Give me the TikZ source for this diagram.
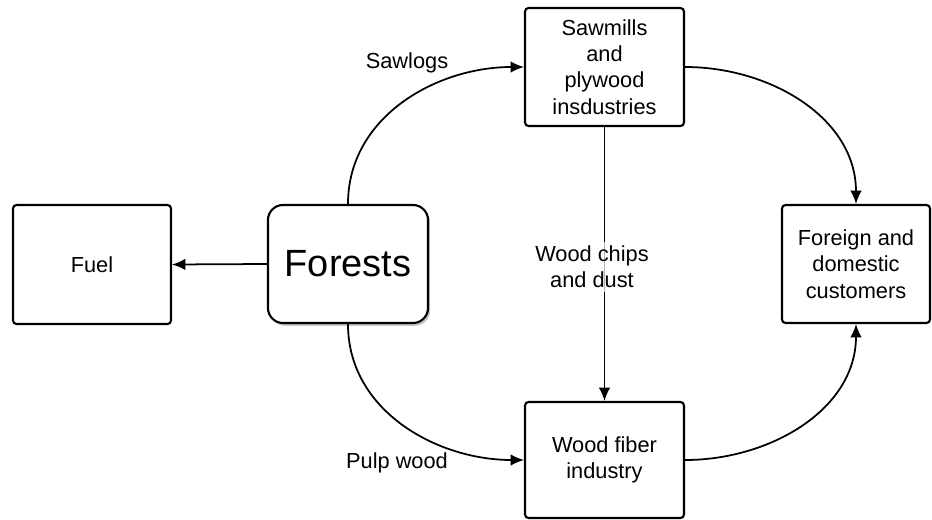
\documentclass[tikz,border=0pt]{standalone}
\usepackage{fontspec}
\setmainfont{Liberation Sans}
\usetikzlibrary{arrows.meta,shadows}
\begin{document}
\begin{tikzpicture}[
  box/.style={draw, line width=0.6pt, rounded corners=1pt, align=center,
    inner sep=0pt, font=\fontsize{6.2}{7.5}\selectfont},
  flow/.style={draw, line width=0.5pt, -{Latex[length=3.8pt,width=3.3pt]}},
  lbl/.style={align=center, inner sep=1pt, font=\fontsize{6.2}{7.5}\selectfont}]
\useasboundingbox (0,0) rectangle (9.32,5.19);

\node[box, minimum width=1.58cm, minimum height=1.19cm] (fuel) at (0.92,2.545) {Fuel};
\node[box, minimum width=1.60cm, minimum height=1.18cm, rounded corners=0.15cm,
  fill=white, drop shadow={shadow xshift=0.6pt, shadow yshift=-0.8pt, fill=black!45},
  font=\fontsize{10.8}{13}\selectfont] (forests) at (3.48,2.55) {Forests};
\node[box, minimum width=1.59cm, minimum height=1.18cm] (sawmills) at (6.045,4.52)
  {Sawmills\\and\\plywood\\insdustries};
\node[box, minimum width=1.59cm, minimum height=1.16cm] (fiber) at (6.045,0.59)
  {Wood fiber\\industry};
\node[box, minimum width=1.48cm, minimum height=1.18cm] (customers) at (8.56,2.55)
  {Foreign and\\domestic\\customers};

\path[flow] (forests.west) -- (fuel.east);
\path[flow] (forests.north) to[out=90,in=180] (sawmills.west);
\path[flow] (forests.south) to[out=-90,in=180] (fiber.west);
\path[flow] (sawmills.east) to[out=0,in=90] (customers.north);
\path[flow] (fiber.east) to[out=0,in=-90] (customers.south);
\path[flow] (sawmills.south) -- (fiber.north);

\node[lbl] (sawlogs) at (4.07,4.56) {Sawlogs};
\node[lbl] (pulp) at (3.97,0.56) {Pulp wood};
\node[lbl, fill=white, fill opacity=0.7, text opacity=1] (chips) at (5.92,2.52)
  {Wood chips\\and dust};
\end{tikzpicture}
\end{document}
